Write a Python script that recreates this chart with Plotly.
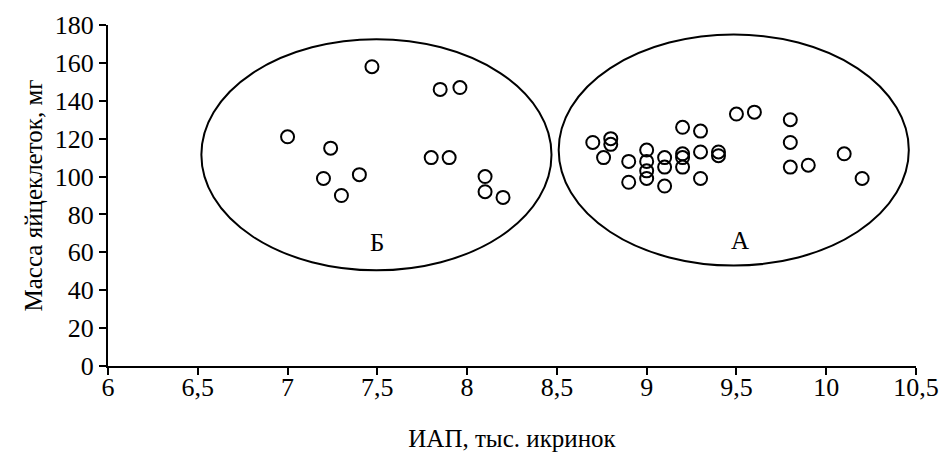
import plotly.graph_objects as go

# Group A: IAP (thousand eggs) and egg mass (mg)
a_iap = [8.7, 8.8, 8.8, 8.76, 8.9, 8.9, 9.0, 9.0, 9.0, 9.0, 9.1, 9.1, 9.1,
         9.2, 9.2, 9.2, 9.2, 9.3, 9.3, 9.3, 9.4, 9.4, 9.5, 9.6, 9.8, 9.8,
         9.8, 9.9, 10.1, 10.2]
a_mass = [118, 120, 117, 110, 108, 97, 114, 108, 103, 99, 110, 105, 95,
          126, 112, 110, 105, 124, 113, 99, 113, 111, 133, 134, 130, 118,
          105, 106, 112, 99]

# Group Б
b_iap = [7.0, 7.24, 7.2, 7.3, 7.4, 7.47, 7.85, 7.96, 7.8, 7.9, 8.1, 8.1, 8.2]
b_mass = [121, 115, 99, 90, 101, 158, 146, 147, 110, 110, 100, 92, 89]

# Ellipses bounding each group: (x0, x1, y0, y1)
ellipse_b = (6.52, 8.47, 50.5, 172.5)
ellipse_a = (8.51, 10.46, 53, 175)
group_labels = [("Б", 7.5, 65), ("А", 9.52, 66)]

x_ticks = [6, 6.5, 7, 7.5, 8, 8.5, 9, 9.5, 10, 10.5]
x_tick_text = ["6", "6,5", "7", "7,5", "8", "8,5", "9", "9,5", "10", "10,5"]
y_ticks = [0, 20, 40, 60, 80, 100, 120, 140, 160, 180]

FONT = "Liberation Serif"

fig = go.Figure()
marker = dict(symbol="circle-open", size=13, color="black", line=dict(width=2, color="black"))
fig.add_trace(go.Scatter(x=a_iap, y=a_mass, mode="markers", marker=marker,
                         showlegend=False, hoverinfo="x+y"))
fig.add_trace(go.Scatter(x=b_iap, y=b_mass, mode="markers", marker=marker,
                         showlegend=False, hoverinfo="x+y"))

for x0, x1, y0, y1 in (ellipse_b, ellipse_a):
    fig.add_shape(type="circle", xref="x", yref="y", x0=x0, x1=x1, y0=y0, y1=y1,
                  line=dict(color="black", width=2), layer="below")

for text, x, y in group_labels:
    fig.add_annotation(x=x, y=y, text=text, showarrow=False,
                       font=dict(family=FONT, size=25, color="black"))

axis_common = dict(
    showgrid=False, zeroline=False, showline=True, linecolor="black", linewidth=2,
    ticks="outside", ticklen=7, tickwidth=2, tickcolor="black",
    tickfont=dict(family=FONT, size=26, color="black"),
    automargin=False,
)

fig.update_xaxes(range=[6, 10.5], tickvals=x_ticks, ticktext=x_tick_text,
                 ticklabelstandoff=-10,
                 title=dict(text="ИАП, тыс. икринок", standoff=28,
                            font=dict(family=FONT, size=25, color="black")),
                 **axis_common)
fig.update_yaxes(range=[0, 180], tickvals=y_ticks,
                 title=dict(text="Масса яйцеклеток, мг", standoff=5,
                            font=dict(family=FONT, size=25, color="black")),
                 **axis_common)

fig.update_layout(
    width=946, height=458,
    margin=dict(l=108, r=30, t=25, b=92),
    plot_bgcolor="white", paper_bgcolor="white",
    separators=", ",
)

fig.write_html("out.html")
